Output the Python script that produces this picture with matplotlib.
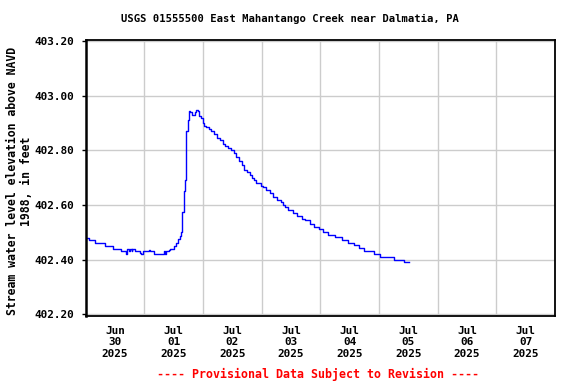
import matplotlib
matplotlib.use("Agg")
import matplotlib.pyplot as plt

# hours since 2025-06-30 00:00
hours = [0, 1.6, 3.7, 8.1, 11.1, 14.5, 16.7, 17.1, 17.9, 18.3, 18.9, 19.1, 20.2, 22.1, 22.7,
         23.5, 26.1, 26.3, 27.9, 31.9, 32.4, 33.1, 34.0, 34.7, 36.0, 37.0, 37.8, 38.5, 39.1,
         39.3, 39.6, 40.1, 40.6, 41.0, 41.2, 41.8, 42.2, 42.6, 43.4, 44.6, 45.1, 45.9, 46.6,
         47.3, 47.9, 48.3, 49.4, 50.4, 51.5, 52.7, 53.8, 55.2, 56.3, 57.2, 58.2, 59.7, 60.6,
         61.6, 62.7, 63.8, 65.0, 66.1, 67.1, 68.2, 68.8, 69.9, 71.6, 72.7, 73.7, 75.4, 76.8,
         78.4, 79.8, 80.6, 81.4, 83.0, 85.0, 86.6, 88.4, 89.9, 91.8, 93.4, 95.4, 97.1, 99.1,
         102.0, 105.0, 107.5, 109.8, 111.8, 113.9, 118.0, 120.4, 122.8, 126.2, 130.3, 132.1]
levels = [402.48, 402.47, 402.46, 402.45, 402.44, 402.43, 402.42, 402.44, 402.43, 402.44,
          402.43, 402.44, 402.43, 402.425, 402.42, 402.43, 402.435, 402.43, 402.42, 402.43,
          402.42, 402.43, 402.435, 402.44, 402.45, 402.46, 402.475, 402.485, 402.50, 402.54,
          402.575, 402.65, 402.69, 402.78, 402.87, 402.91, 402.945, 402.94, 402.93, 402.94,
          402.95, 402.945, 402.925, 402.92, 402.90, 402.89, 402.885, 402.88, 402.87, 402.86,
          402.845, 402.84, 402.825, 402.815, 402.81, 402.80, 402.79, 402.775, 402.76, 402.745,
          402.73, 402.72, 402.71, 402.70, 402.69, 402.68, 402.67, 402.665, 402.655, 402.645,
          402.63, 402.62, 402.61, 402.60, 402.593, 402.58, 402.57, 402.56, 402.55, 402.544,
          402.53, 402.52, 402.512, 402.50, 402.49, 402.483, 402.47, 402.462, 402.453, 402.443,
          402.43, 402.42, 402.408, 402.41, 402.40, 402.39, 402.39]

day_labels = ["Jun\n30\n2025", "Jul\n01\n2025", "Jul\n02\n2025", "Jul\n03\n2025",
              "Jul\n04\n2025", "Jul\n05\n2025", "Jul\n06\n2025", "Jul\n07\n2025"]
y_ticks = [402.20, 402.40, 402.60, 402.80, 403.00, 403.20]

title = "USGS 01555500 East Mahantango Creek near Dalmatia, PA"
ylabel = "Stream water level elevation above NAVD\n1988, in feet"
footer = "---- Provisional Data Subject to Revision ----"

mono = "DejaVu Sans Mono"
fs = 7.9

fig = plt.figure(figsize=(5.76, 3.84), dpi=100)
ax = fig.add_axes([85.5/576, 1-316/384, (555-85.5)/576, (316-39.5)/384])

days = [h/24.0 for h in hours]
ax.plot(days, levels, color="#0000ff", lw=1.0, drawstyle="steps-post")

ax.set_xlim(0, 8)
ax.set_ylim(402.193, 403.207)

# gridlines at day boundaries, labels at noon
ax.set_xticks(range(1, 8))
ax.set_xticklabels([])
ax.set_xticks([i + 0.5 for i in range(8)], minor=True)
ax.set_xticklabels(day_labels, minor=True, fontfamily=mono, fontweight="bold", fontsize=fs,
                   linespacing=1.22)
ax.tick_params(axis="x", which="major", length=0)
ax.tick_params(axis="x", which="minor", length=0, pad=7)
ax.grid(True, axis="x", which="major", color="#cccccc", lw=1)

ax.set_yticks(y_ticks)
ax.set_yticklabels([f"{v:.2f}" for v in y_ticks], fontfamily=mono, fontweight="bold", fontsize=fs)
ax.tick_params(axis="y", length=3, width=1, pad=5)
ax.grid(True, axis="y", color="#cccccc", lw=1)
ax.set_axisbelow(True)

for s in ax.spines.values():
    s.set_linewidth(1.3)
    s.set_color("black")
ax.spines["left"].set_linewidth(1.8)

fig.text(19.5/576, 1 - 181/384, ylabel, rotation=90, ha="center", va="center",
         multialignment="center", fontfamily=mono, fontweight="bold", fontsize=8.3,
         linespacing=1.1)
fig.text(289.5/576, 1 - 19/384, title, ha="center", va="center",
         fontfamily=mono, fontweight="bold", fontsize=7.55)
fig.text(318/576, 1 - 374.5/384, footer, ha="center", va="center", color="red",
         fontfamily=mono, fontweight="bold", fontsize=8.35)

fig.savefig("out.png", dpi=100)
